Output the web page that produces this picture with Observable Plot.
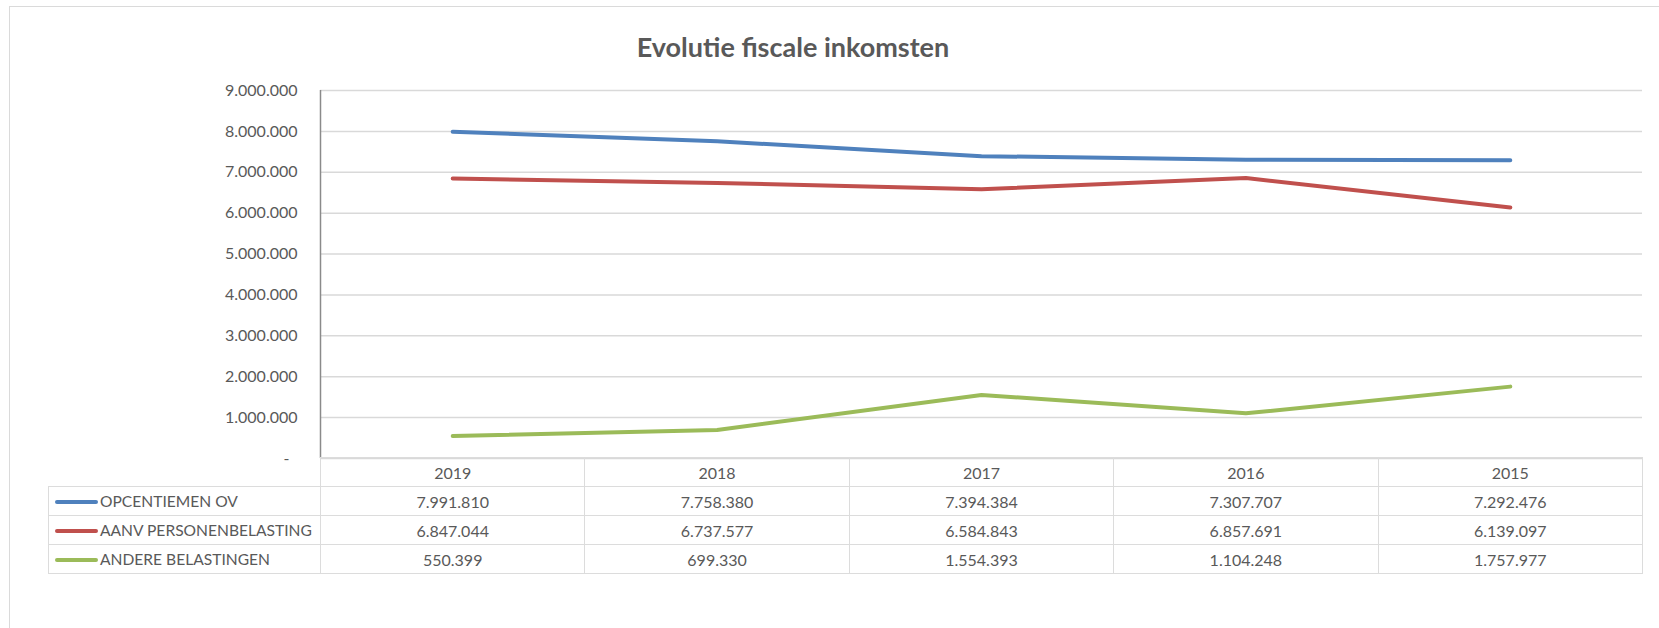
<!DOCTYPE html>
<html>
<head>
<meta charset="utf-8">
<script src="https://cdn.jsdelivr.net/npm/d3@7"></script>
<script src="https://cdn.jsdelivr.net/npm/@observablehq/plot@0.6"></script>
<style>
  html, body { margin: 0; padding: 0; background: #fff; }
  body { width: 1659px; height: 628px; overflow: hidden; position: relative;
         font-family: Lato, "Open Sans", sans-serif; color: #595959; }
  #box { position: absolute; left: 9px; top: 6px; width: 1700px; height: 700px;
         border: 1.5px solid #dadada; box-sizing: border-box; }
  #title { position: absolute; left: 493px; width: 600px; top: 31px; line-height: 32px;
           text-align: center; font-weight: 700; font-size: 27px; color: #595959; }
  #chart { position: absolute; left: 0; top: 0; }
  #chart svg { display: block; }
  #datatable { position: absolute; border-collapse: collapse; table-layout: fixed;
               font-size: 16px; color: #595959; }
  #datatable td { border: 1.5px solid #dcdcdc; padding: 0; height: 28px;
                  text-align: center; white-space: nowrap; overflow: hidden; }
  #datatable td.name { text-align: left; padding-left: 6px; font-size: 15.6px; }
  #datatable td.corner { border-top: hidden; border-left: hidden; }
  .swatch { display: inline-block; width: 43px; height: 4px; border-radius: 2px;
            vertical-align: middle; margin-right: 2px; position: relative; top: -1px; }
</style>
</head>
<body>
<div id="box"></div>
<div id="chart"></div>
<div id="title">Evolutie fiscale inkomsten</div>
<script>
// Fiscal income per year (EUR), newest year first
const years = ["2019", "2018", "2017", "2016", "2015"];
const seriesNames = ["OPCENTIEMEN OV", "AANV PERSONENBELASTING", "ANDERE BELASTINGEN"];
const opcentiemenOV = [7991810, 7758380, 7394384, 7307707, 7292476];
const aanvPersonenbelasting = [6847044, 6737577, 6584843, 6857691, 6139097];
const andereBelastingen = [550399, 699330, 1554393, 1104248, 1757977];
const seriesColors = ["#4F81BD", "#C0504D", "#9BBB59"];
const yTicks = [0, 1000000, 2000000, 3000000, 4000000, 5000000, 6000000, 7000000, 8000000, 9000000];

const seriesValues = [opcentiemenOV, aanvPersonenbelasting, andereBelastingen];

// Dutch number format: dots as thousands separators
const nl = d3.formatLocale({decimal: ",", thousands: ".", grouping: [3], currency: ["€ ", ""]});
const fmt = nl.format(",d");
const tickFormat = v => v === 0 ? "-\u2002" : fmt(v);

const rows = seriesNames.flatMap((name, s) =>
  seriesValues[s].map((value, i) => ({series: name, i, year: years[i], value}))
);

const chart = Plot.plot({
  width: 1659,
  height: 628,
  marginLeft: 320,
  marginRight: 17,
  marginTop: 90,
  marginBottom: 170,
  x: {type: "linear", domain: [-0.5, years.length - 0.5], axis: null},
  y: {domain: [0, 9000000]},
  color: {domain: seriesNames, range: seriesColors},
  style: {fontFamily: "Lato, sans-serif", fontSize: "16px", color: "#595959", background: "transparent", overflow: "visible"},
  marks: [
    Plot.gridY(yTicks, {stroke: "#d9d9d9", strokeOpacity: 1, strokeWidth: 1.5}),
    Plot.axisY(yTicks, {tickSize: 0, tickPadding: 23, tickFormat, label: null, fontSize: 16, fill: "#595959"}),
    Plot.ruleX([-0.5], {y1: 0, y2: 9000000, stroke: "#8a8a8a", strokeWidth: 1.5}),
    Plot.line(rows, {
      x: "i", y: "value", z: "series", stroke: "series",
      strokeWidth: 4, strokeLinecap: "round", strokeLinejoin: "round"
    })
  ]
});
document.getElementById("chart").appendChild(chart);

// Data table below the plot, columns aligned with the x scale
const xs = chart.scale("x");
const ys = chart.scale("y");
const tableLeft = 48;
const colEdges = d3.range(years.length + 1).map(k => xs.apply(k - 0.5));

const table = d3.select("body").append("table").attr("id", "datatable")
  .style("left", tableLeft + "px")
  .style("top", (ys.apply(0) - 0.75) + "px")
  .style("width", (colEdges[colEdges.length - 1] - tableLeft) + "px");

const colgroup = table.append("colgroup");
colgroup.append("col").style("width", (colEdges[0] - tableLeft) + "px");
years.forEach((y, i) => colgroup.append("col").style("width", (colEdges[i + 1] - colEdges[i]) + "px"));

const header = table.append("tr");
header.append("td").attr("class", "corner");
years.forEach(y => header.append("td").text(y));

seriesNames.forEach((name, s) => {
  const tr = table.append("tr");
  const cell = tr.append("td").attr("class", "name");
  cell.append("span").attr("class", "swatch").style("background", seriesColors[s]);
  cell.append("span").text(name);
  seriesValues[s].forEach(v => tr.append("td").text(fmt(v)));
});
</script>
</body>
</html>
